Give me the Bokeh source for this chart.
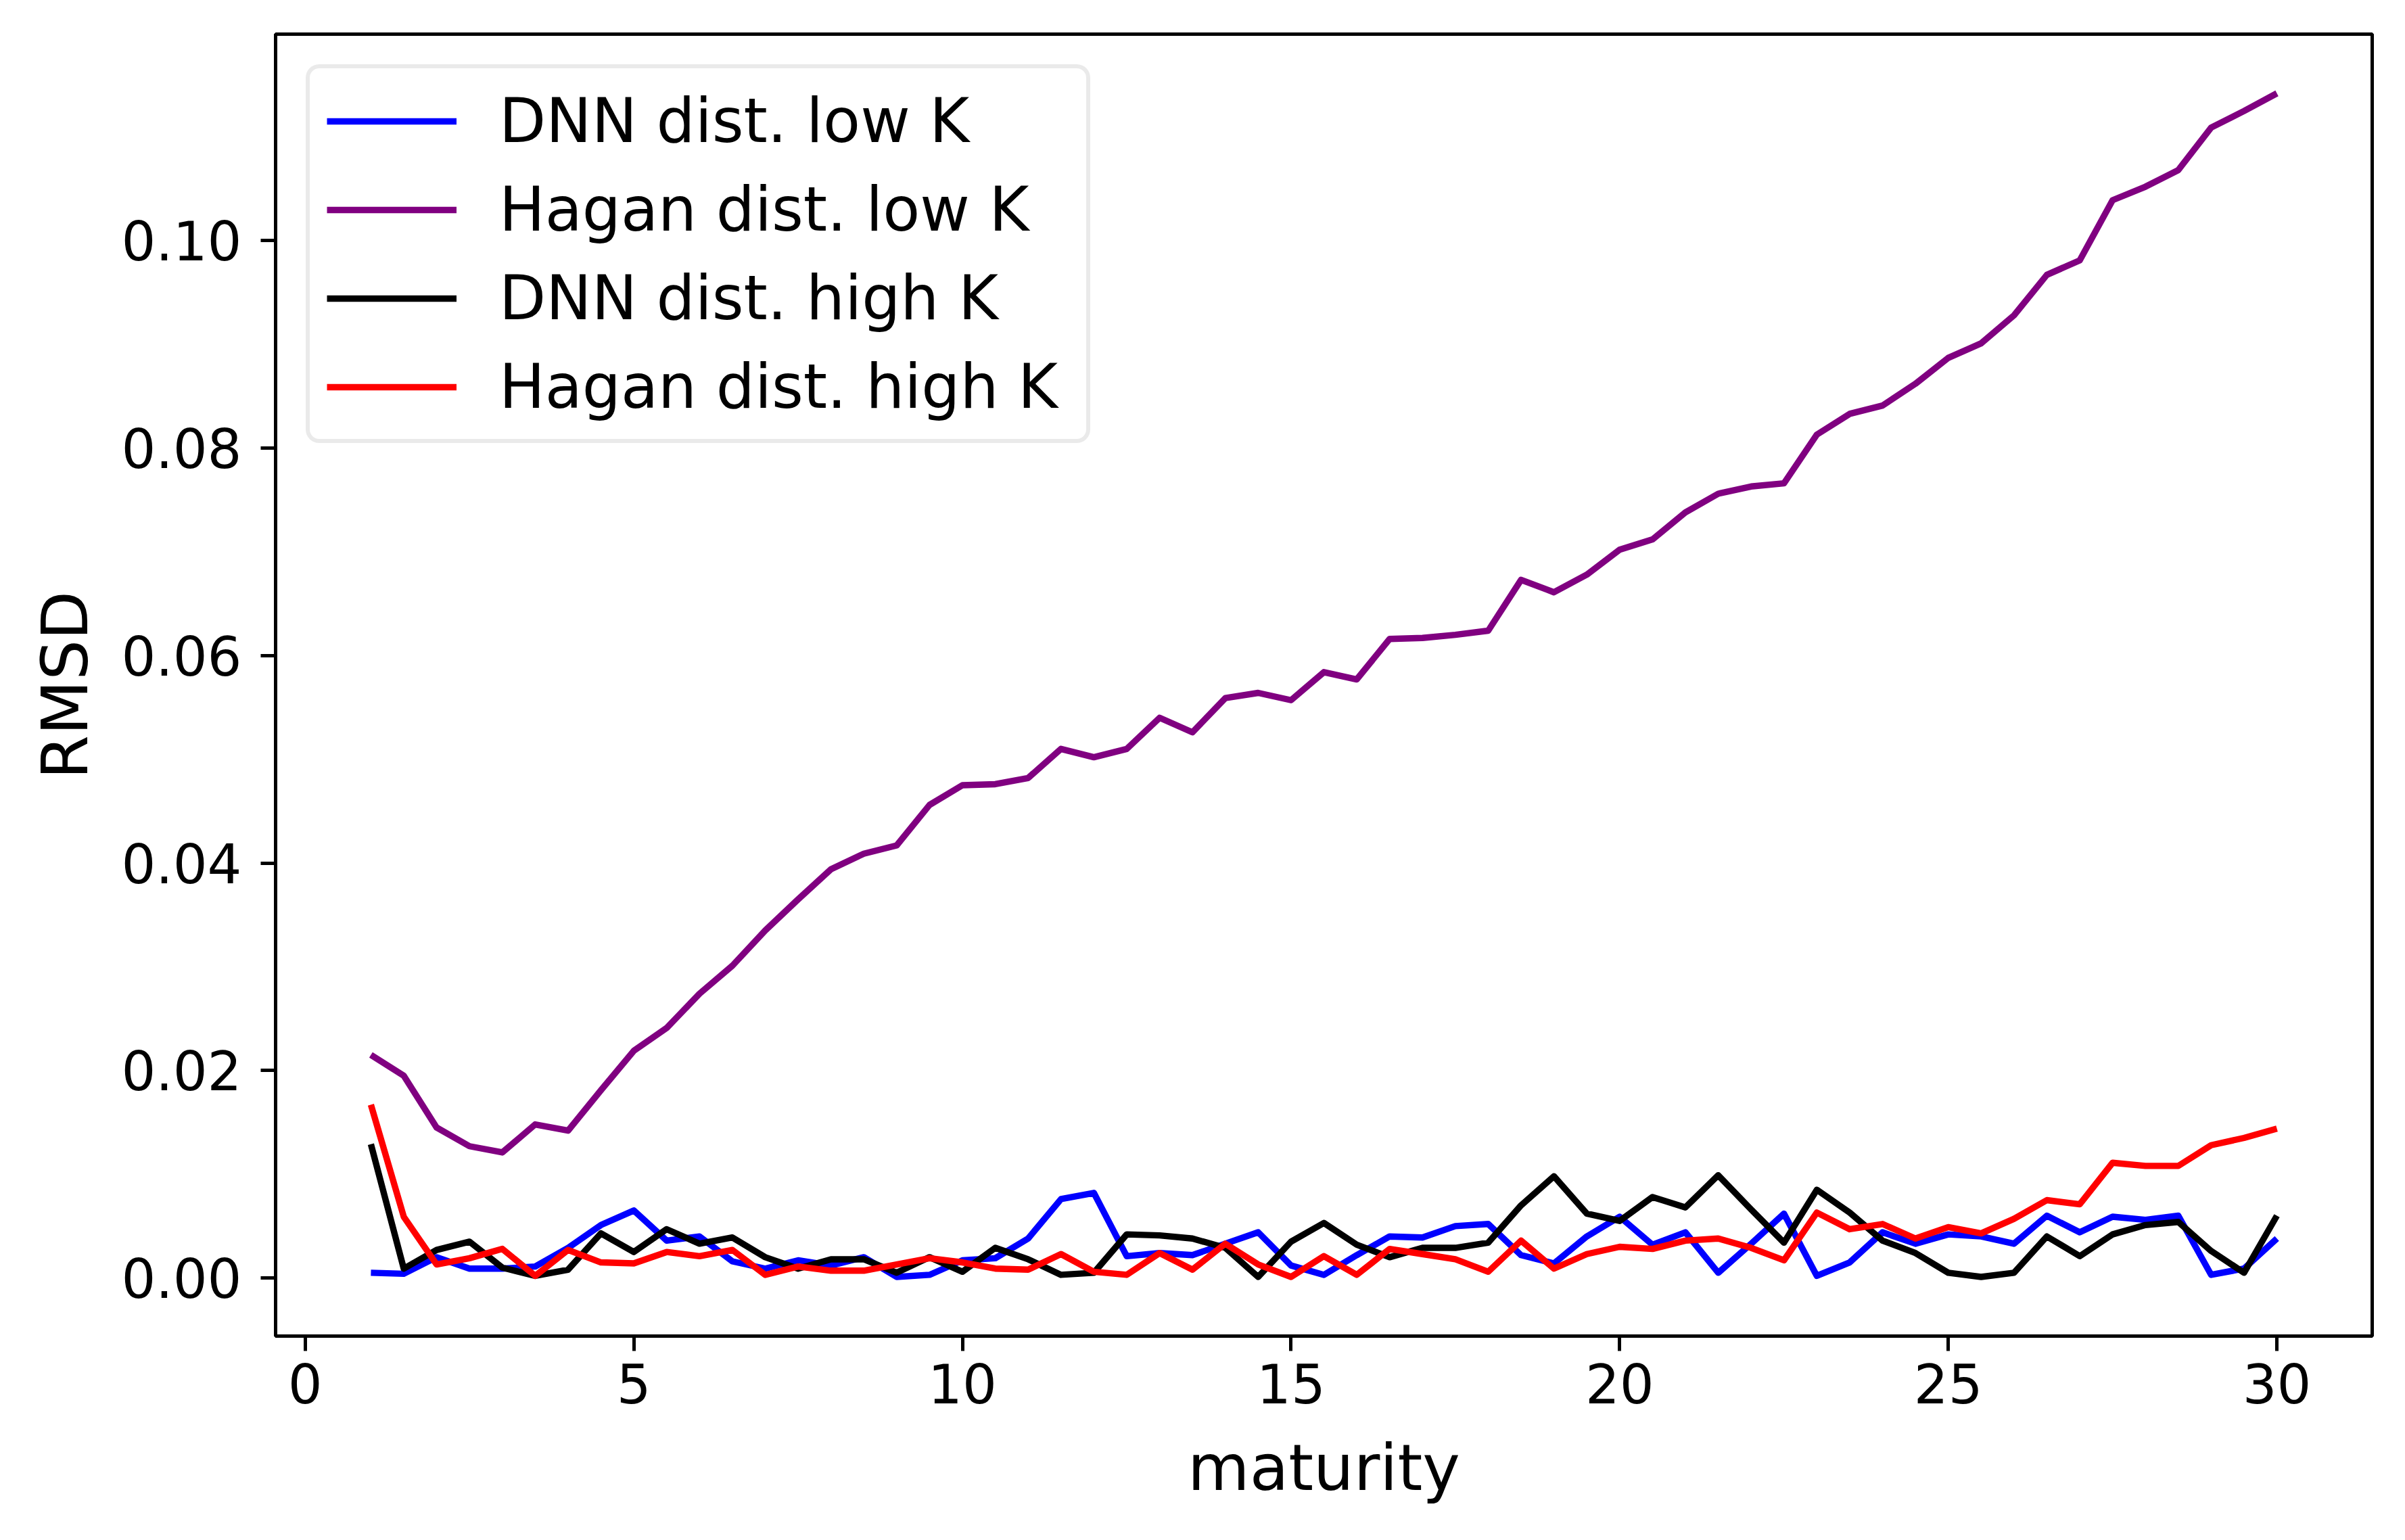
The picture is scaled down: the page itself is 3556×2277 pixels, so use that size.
from bokeh.plotting import figure
from bokeh.models import Legend, LegendItem, FixedTicker, Range1d
from bokeh.embed import file_html
from bokeh.resources import INLINE

maturity = [1.0, 1.5, 2.0, 2.5, 3.0, 3.5, 4.0, 4.5, 5.0, 5.5, 6.0, 6.5, 7.0, 7.5, 8.0, 8.5,
            9.0, 9.5, 10.0, 10.5, 11.0, 11.5, 12.0, 12.5, 13.0, 13.5, 14.0, 14.5, 15.0, 15.5,
            16.0, 16.5, 17.0, 17.5, 18.0, 18.5, 19.0, 19.5, 20.0, 20.5, 21.0, 21.5, 22.0, 22.5,
            23.0, 23.5, 24.0, 24.5, 25.0, 25.5, 26.0, 26.5, 27.0, 27.5, 28.0, 28.5, 29.0, 29.5, 30.0]

dnn_low = [0.0005, 0.0004, 0.0020, 0.0009, 0.0009, 0.0011, 0.0029, 0.0051, 0.0065, 0.0036,
           0.0040, 0.0016, 0.0009, 0.0017, 0.0012, 0.0020, 0.0001, 0.0003, 0.0017, 0.0019,
           0.0038, 0.0076, 0.0082, 0.0021, 0.0024, 0.0022, 0.0033, 0.0044, 0.0012, 0.0003,
           0.0022, 0.0040, 0.0039, 0.0050, 0.0052, 0.0022, 0.0014, 0.0040, 0.0059, 0.0032,
           0.0044, 0.0005, 0.0033, 0.0062, 0.0002, 0.0015, 0.0044, 0.0033, 0.0042, 0.0040,
           0.0033, 0.0060, 0.0044, 0.0059, 0.0056, 0.0060, 0.0003, 0.0009, 0.0038]

hagan_low = [0.0215, 0.0195, 0.0145, 0.0127, 0.0121, 0.0148, 0.0142, 0.0181, 0.0219, 0.0241,
             0.0274, 0.0301, 0.0335, 0.0365, 0.0394, 0.0409, 0.0417, 0.0456, 0.0475, 0.0476,
             0.0482, 0.0510, 0.0502, 0.0510, 0.0540, 0.0526, 0.0559, 0.0564, 0.0557, 0.0584,
             0.0577, 0.0616, 0.0617, 0.0620, 0.0624, 0.0673, 0.0661, 0.0678, 0.0702, 0.0712,
             0.0738, 0.0756, 0.0763, 0.0766, 0.0813, 0.0833, 0.0841, 0.0862, 0.0887, 0.0901,
             0.0928, 0.0967, 0.0981, 0.1039, 0.1052, 0.1068, 0.1109, 0.1125, 0.1142]

dnn_high = [0.0129, 0.0009, 0.0027, 0.0035, 0.0010, 0.0002, 0.0008, 0.0043, 0.0025, 0.0047,
            0.0033, 0.0039, 0.0020, 0.0009, 0.0018, 0.0018, 0.0005, 0.0020, 0.0006, 0.0029,
            0.0018, 0.0003, 0.0005, 0.0042, 0.0041, 0.0038, 0.0029, 0.0001, 0.0035, 0.0053,
            0.0032, 0.0020, 0.0029, 0.0029, 0.0034, 0.0070, 0.0098, 0.0062, 0.0055, 0.0078,
            0.0068, 0.0099, 0.0066, 0.0034, 0.0085, 0.0063, 0.0036, 0.0024, 0.0005, 0.0001,
            0.0005, 0.0040, 0.0021, 0.0042, 0.0051, 0.0054, 0.0026, 0.0005, 0.0060]

hagan_high = [0.0167, 0.0059, 0.0013, 0.0019, 0.0028, 0.0002, 0.0027, 0.0015, 0.0014, 0.0025,
              0.0021, 0.0027, 0.0003, 0.0011, 0.0007, 0.0007, 0.0013, 0.0019, 0.0015, 0.0009,
              0.0008, 0.0023, 0.0006, 0.0003, 0.0024, 0.0008, 0.0033, 0.0013, 0.0001, 0.0021,
              0.0003, 0.0028, 0.0023, 0.0018, 0.0006, 0.0036, 0.0009, 0.0023, 0.0030, 0.0028,
              0.0036, 0.0038, 0.0029, 0.0017, 0.0063, 0.0047, 0.0052, 0.0038, 0.0049, 0.0043,
              0.0057, 0.0075, 0.0071, 0.0111, 0.0108, 0.0108, 0.0128, 0.0135, 0.0144]

series_names = ["DNN dist. low K", "Hagan dist. low K", "DNN dist. high K", "Hagan dist. high K"]
series_colors = ["#0000ff", "#800080", "#000000", "#ff0000"]

x_ticks = [0, 5, 10, 15, 20, 25, 30]
x_tick_labels = ["0", "5", "10", "15", "20", "25", "30"]
y_ticks = [0.0, 0.02, 0.04, 0.06, 0.08, 0.10]
y_tick_labels = ["0.00", "0.02", "0.04", "0.06", "0.08", "0.10"]

all_series = [dnn_low, hagan_low, dnn_high, hagan_high]

# matplotlib-like 5% autoscale margins
xmin, xmax = min(maturity), max(maturity)
ymin = min(min(s) for s in all_series)
ymax = max(max(s) for s in all_series)
xpad = 0.05 * (xmax - xmin)
ypad = 0.05 * (ymax - ymin)

FONT = "DejaVu Sans"

p = figure(width=3540, height=2261, output_backend="svg", toolbar_location=None,
           x_range=Range1d(xmin - xpad, xmax + xpad),
           y_range=Range1d(ymin - ypad, ymax + ypad),
           min_border_left=407, min_border_right=33, min_border_top=50, min_border_bottom=286)

p.xgrid.visible = False
p.ygrid.visible = False
p.outline_line_color = "black"
p.outline_line_width = 5
p.outline_line_alpha = 1.0
p.background_fill_color = "white"
p.border_fill_color = "white"

renderers = []
for ys, col in zip(all_series, series_colors):
    r = p.line(maturity, ys, line_color=col, line_width=9.4, line_join="round")
    renderers.append(r)

for ax in (p.xaxis[0], p.yaxis[0]):
    ax.axis_line_color = "black"
    ax.axis_line_width = 5
    ax.major_tick_line_color = "black"
    ax.major_tick_line_width = 5
    ax.major_tick_in = 0
    ax.major_tick_out = 22
    ax.minor_tick_line_color = None
    ax.major_label_text_font = FONT
    ax.major_label_text_font_size = "80px"
    ax.major_label_text_color = "black"
    ax.axis_label_text_font = FONT
    ax.axis_label_text_font_size = "94px"
    ax.axis_label_text_font_style = "normal"
    ax.axis_label_text_color = "black"

p.xaxis[0].ticker = FixedTicker(ticks=x_ticks)
p.xaxis[0].major_label_overrides = {t: l for t, l in zip(x_ticks, x_tick_labels)}
p.yaxis[0].ticker = FixedTicker(ticks=y_ticks)
p.yaxis[0].major_label_overrides = {t: l for t, l in zip(y_ticks, y_tick_labels)}
p.xaxis[0].axis_label = "maturity"
p.yaxis[0].axis_label = "RMSD"
p.xaxis[0].major_label_standoff = 18
p.yaxis[0].major_label_standoff = 28
p.xaxis[0].axis_label_standoff = 38
p.yaxis[0].axis_label_standoff = 25

legend = Legend(items=[LegendItem(label=n, renderers=[r]) for n, r in zip(series_names, renderers)])
legend.location = "top_left"
legend.margin = 45
legend.padding = 25
legend.spacing = 26
legend.glyph_width = 192
legend.glyph_height = 100
legend.label_height = 100
legend.label_width = 843
legend.label_standoff = 63
legend.label_text_font = FONT
legend.label_text_font_size = "90px"
legend.label_text_color = "black"
legend.border_line_color = "#d6d6d6"
legend.border_line_width = 6
legend.background_fill_color = "white"
legend.background_fill_alpha = 0.8
try:
    legend.border_radius = 20
except Exception:
    pass
p.add_layout(legend)

open("out.html", "w").write(file_html(p, INLINE))
